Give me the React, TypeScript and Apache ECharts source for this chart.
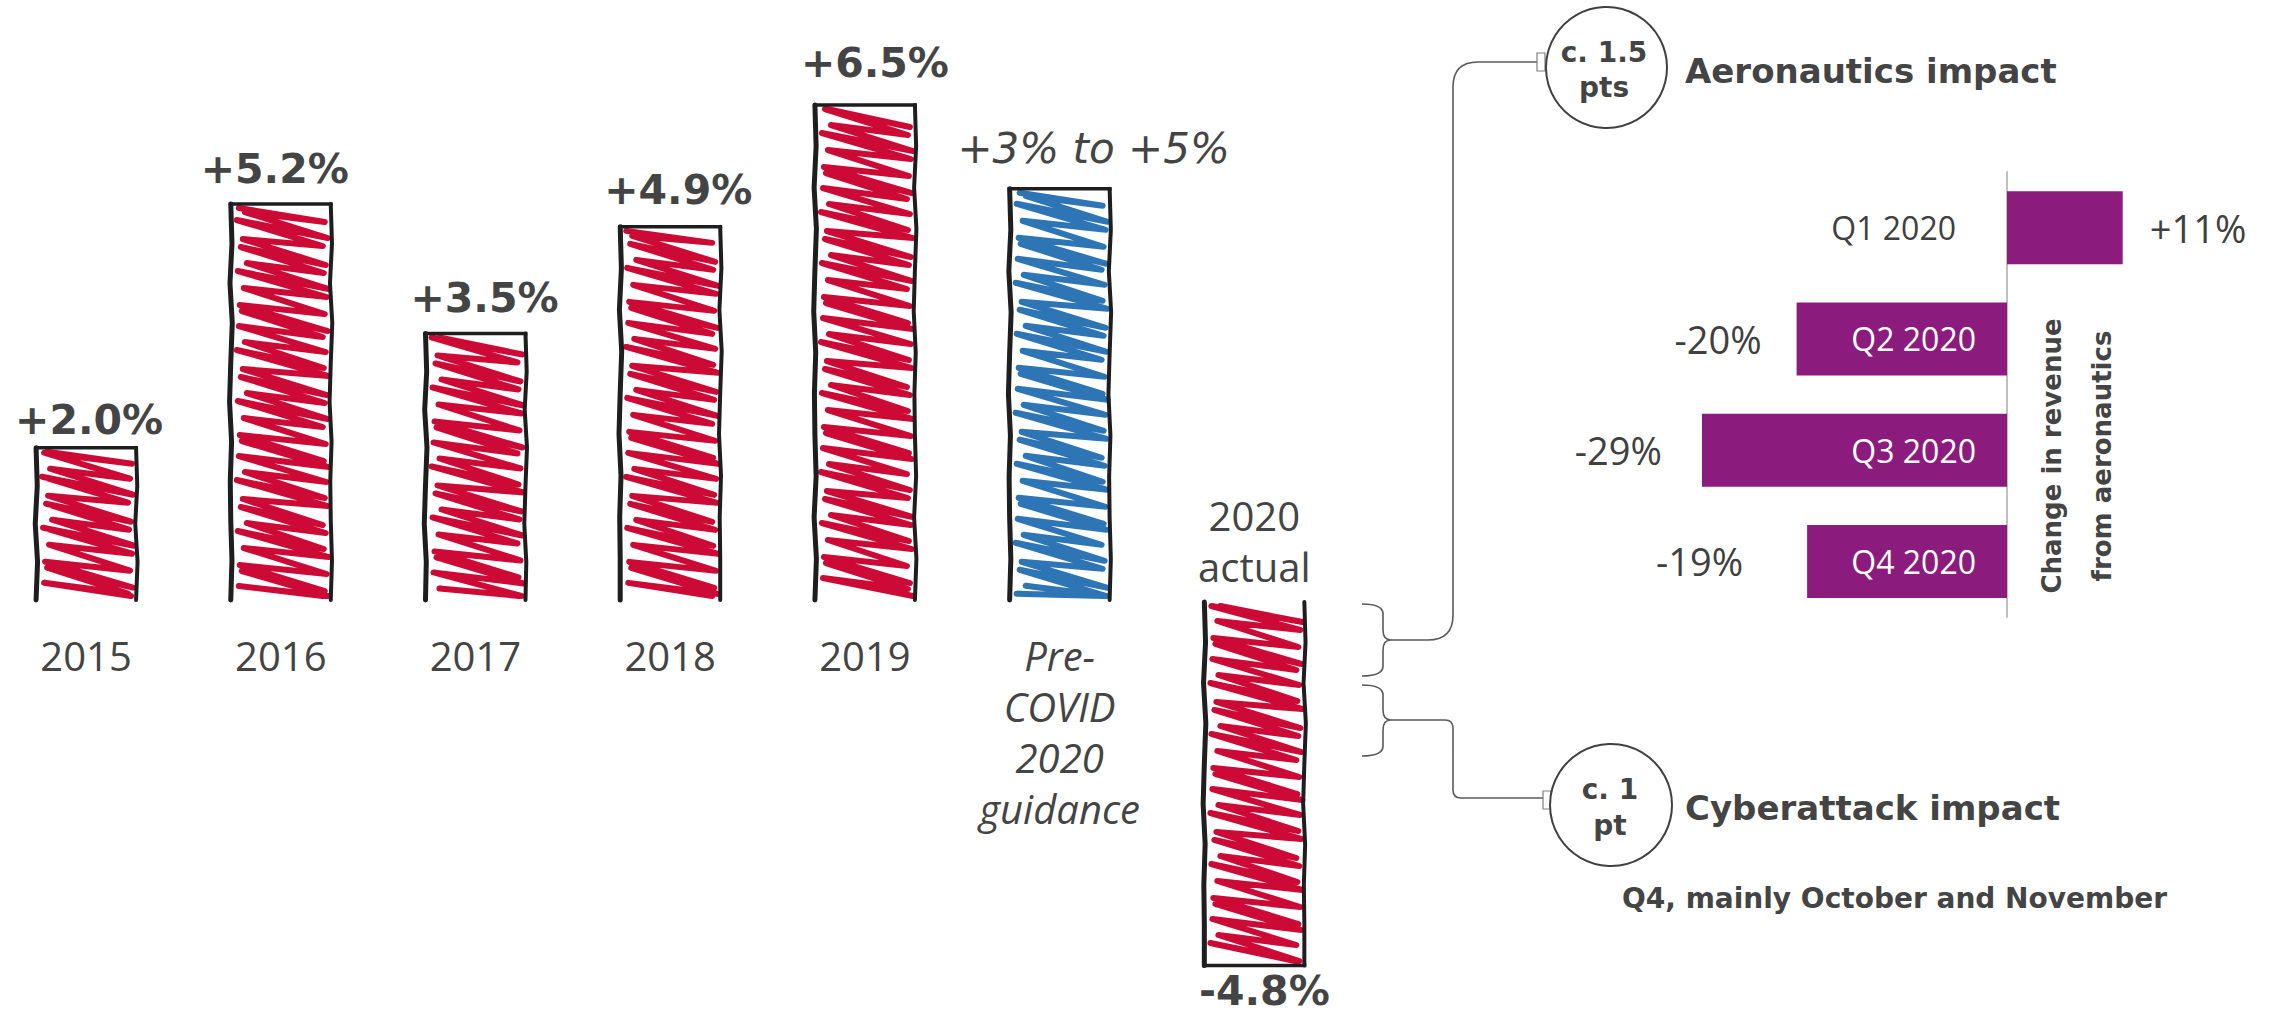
import React, { useEffect, useRef } from 'react';
import * as echarts from 'echarts';

// ---------------- data ----------------
const categories = ['2015', '2016', '2017', '2018', '2019', 'Pre-COVID 2020 guidance', '2020 actual'];
const categoryLabels = ['2015', '2016', '2017', '2018', '2019', 'Pre-\nCOVID\n2020\nguidance', ''];
const growth = [2.0, 5.2, 3.5, 4.9, 6.5, 5.4, -4.8];
const growthLabels = ['+2.0%', '+5.2%', '+3.5%', '+4.9%', '+6.5%', '+3% to +5%', '-4.8%'];
const actualTitle = '2020\nactual';
const guidanceIndex = 5;
const actualIndex = 6;

const quarters = ['Q1 2020', 'Q2 2020', 'Q3 2020', 'Q4 2020'];
const aeroChange = [11, -20, -29, -19];
const aeroLabels = ['+11%', '-20%', '-29%', '-19%'];

const impactAero = 'c. 1.5\npts';
const impactAeroTitle = 'Aeronautics impact';
const impactCyber = 'c. 1\npt';
const impactCyberTitle = 'Cyberattack impact';
const impactCyberNote = 'Q4, mainly October and November';
const aeroAxisTitle = 'Change in revenue\nfrom aeronautics';

// ---------------- styles / layout ----------------
const RED = '#CC0A35';
const BLUE = '#2E75B6';
const PURPLE = '#8B1C7E';
const TEXT = '#444444';
const BORDER = '#1e1e1e';
const BOLD = '"DejaVu Sans", Verdana, sans-serif';
const REG = '"Open Sans", "Noto Sans", sans-serif';

const Y_MIN = -5;
const Y_MAX = 7;
const GRID_TOP = 66.95;
const GRID_HEIGHT = 913.8;
// distance from grid bottom up to the zero line
const ZERO_OFFSET = (GRID_HEIGHT * -Y_MIN) / (Y_MAX - Y_MIN);

const labelDistance = [7.5, 14.5, 14.5, 16.5, 21.5, 19.5, 5];
const labelOffsetX = [3, -6, 9, 8, 10, 34, 10];
const aeroValueDistance = [27, 35, 40, 64];
const LEFT_INSET = [10, 16, 8, 14, 12, 18, 9, 15, 11, 13];
const RIGHT_INSET = [8, 5, 10, 7, 9, 4, 6];
const STEP_VAR = [0, 3, -2, 4, -1, 2, -3, 1, 5, -2];
const WOBBLE = [0, 1.2, -0.8, 1.5, 0, -1.2, 0.8, -0.5];

const connectorPath =
  'M1362,604 Q1383,604 1383,614 L1383,630 Q1383,640 1391,640 Q1383,640 1383,650 L1383,666 Q1383,676 1362,676 ' +
  'M1391,640 L1428,640 Q1453,640 1453,615 L1453,87 Q1453,62 1478,62 L1537,62 ' +
  'M1362,685 Q1383,685 1383,695 L1383,710 Q1383,720 1391,720 Q1383,720 1383,730 L1383,746 Q1383,756 1362,756 ' +
  'M1391,720 L1445,720 Q1453,720 1453,728 L1453,790 Q1453,798 1461,798 L1543,798';

let shapeRegistered = false;
function registerShapes() {
  if (shapeRegistered) return;
  echarts.graphic.registerShape('connectors', echarts.graphic.extendPath(connectorPath, {}) as any);
  shapeRegistered = true;
}

function borderLine(x: number, y1: number, y2: number, width: number) {
  const pts: number[][] = [];
  const n = Math.max(2, Math.round((y2 - y1) / 40));
  for (let k = 0; k <= n; k++) {
    pts.push([x + (k === 0 || k === n ? 0 : WOBBLE[k % WOBBLE.length]), y1 + ((y2 - y1) * k) / n]);
  }
  return {
    type: 'polyline',
    shape: { points: pts },
    style: { stroke: BORDER, lineWidth: width, fill: null, lineJoin: 'round', lineCap: 'round' },
  };
}

function renderScribble(params: any, api: any) {
  const i = api.value(0);
  const v = api.value(1);
  const base = api.coord([i, 0]);
  const end = api.coord([i, v]);
  const bw = 104;
  const cx = base[0];
  const x0 = cx - bw / 2;
  const x1 = cx + bw / 2;
  const yTop = Math.min(base[1], end[1]) + (v < 0 ? 2 : 0);
  const yBot = Math.max(base[1], end[1]);
  const color = i === guidanceIndex ? BLUE : RED;
  const step = 13;
  const drop = 26;
  const pts: number[][] = [];
  for (let k = -1; ; k++) {
    const yl = yTop + 5 + k * step + STEP_VAR[(k + 10 + i) % STEP_VAR.length];
    if (yl > yBot - 6) break;
    const yr = yl + drop;
    pts.push([x0 + LEFT_INSET[(k + 10 + i) % LEFT_INSET.length], Math.max(yl, yTop + 4)]);
    pts.push([x1 - RIGHT_INSET[(k + 7 + i) % RIGHT_INSET.length], Math.min(yr, yBot - 4)]);
  }
  const children: any[] = [
    {
      type: 'polyline',
      shape: { points: pts },
      style: { stroke: color, lineWidth: 6, fill: null, lineJoin: 'round', lineCap: 'round' },
    },
    borderLine(x0 + 2, yTop, yBot, 5),
    borderLine(x1 - 2, yTop, yBot, 4),
  ];
  const capY = v >= 0 ? yTop : yBot;
  children.push({
    type: 'line',
    shape: { x1: x0, y1: capY, x2: x1, y2: capY },
    style: { stroke: BORDER, lineWidth: 3.5 },
  });
  return { type: 'group', children };
}

export default function App() {
  const ref = useRef<HTMLDivElement>(null);

  useEffect(() => {
    document.body.style.margin = '0';
    registerShapes();
    const chart = echarts.init(ref.current as HTMLDivElement, undefined, { renderer: 'svg' });

    const option: any = {
      animation: false,
      backgroundColor: '#ffffff',
      grid: [
        { left: -11.3, width: 1363, top: GRID_TOP, height: GRID_HEIGHT, outerBoundsMode: 'none', containLabel: false },
        { left: 1691.4, width: 526, top: 172, height: 445, outerBoundsMode: 'none', containLabel: false },
      ],
      xAxis: [
        {
          gridIndex: 0,
          type: 'category',
          data: categories,
          position: 'bottom',
          offset: -ZERO_OFFSET,
          axisLine: { show: false, onZero: false },
          axisTick: { show: false },
          splitLine: { show: false },
          axisLabel: {
            interval: 0,
            margin: 30,
            formatter: (_v: string, idx: number) => {
              const txt = categoryLabels[idx];
              if (!txt) return '';
              const style = idx === guidanceIndex ? 'it' : 'n';
              return txt.split('\n').map((l) => `{${style}|${l}}`).join('\n');
            },
            rich: {
              n: { fontFamily: REG, fontSize: 40, lineHeight: 51, color: TEXT },
              it: { fontFamily: REG, fontSize: 40, lineHeight: 51, color: TEXT, fontStyle: 'italic' },
            },
          },
        },
        { gridIndex: 1, type: 'value', min: -30, max: 20, show: false, splitLine: { show: false } },
      ],
      yAxis: [
        { gridIndex: 0, type: 'value', min: Y_MIN, max: Y_MAX, show: false, splitLine: { show: false } },
        {
          gridIndex: 1,
          type: 'category',
          data: quarters,
          inverse: true,
          axisLine: { show: true, onZero: true, lineStyle: { color: '#bfbfbf', width: 2 } },
          axisTick: { show: false },
          axisLabel: { show: false },
          splitLine: { show: false },
        },
      ],
      series: [
        {
          type: 'custom',
          xAxisIndex: 0,
          yAxisIndex: 0,
          z: 3,
          silent: true,
          data: growth.map((v, i) => [i, v]),
          encode: { x: 0, y: 1 },
          renderItem: renderScribble,
        },
        {
          type: 'bar',
          xAxisIndex: 0,
          yAxisIndex: 0,
          barWidth: 104,
          barGap: '-100%',
          silent: true,
          z: 4,
          itemStyle: { color: 'rgba(0,0,0,0)' },
          data: growth.map((v, i) => ({
            value: v,
            label: {
              show: true,
              position: v >= 0 ? 'top' : 'bottom',
              distance: labelDistance[i],
              offset: [labelOffsetX[i], 0],
              formatter: growthLabels[i],
              fontFamily: BOLD,
              fontWeight: i === guidanceIndex ? 'normal' : 'bold',
              fontStyle: i === guidanceIndex ? 'italic' : 'normal',
              fontSize: i === guidanceIndex ? 42 : 41,
              lineHeight: 41,
              color: TEXT,
            },
          })),
        },
        {
          type: 'bar',
          xAxisIndex: 0,
          yAxisIndex: 0,
          barWidth: 104,
          barGap: '-100%',
          silent: true,
          z: 4,
          itemStyle: { color: 'rgba(0,0,0,0)' },
          data: growth.map((v, i) =>
            i === actualIndex
              ? {
                  value: v,
                  label: {
                    show: true,
                    position: 'top',
                    distance: 8.5,
                    formatter: actualTitle,
                    fontFamily: REG,
                    fontSize: 40,
                    lineHeight: 51,
                    color: TEXT,
                  },
                }
              : { value: v, label: { show: false } }
          ),
        },
        {
          type: 'bar',
          xAxisIndex: 1,
          yAxisIndex: 1,
          barWidth: 73,
          silent: true,
          itemStyle: { color: PURPLE },
          data: aeroChange.map((v, i) => ({
            value: v,
            label:
              v >= 0
                ? { show: true, position: 'left', distance: 51, formatter: quarters[i], color: '#404040', fontFamily: REG, fontSize: 32 }
                : { show: true, position: 'insideRight', distance: 31, formatter: quarters[i], color: '#ffffff', fontFamily: REG, fontSize: 32 },
          })),
        },
        {
          type: 'bar',
          xAxisIndex: 1,
          yAxisIndex: 1,
          barWidth: 73,
          barGap: '-100%',
          silent: true,
          itemStyle: { color: 'rgba(0,0,0,0)' },
          data: aeroChange.map((v, i) => ({
            value: v,
            label: {
              show: true,
              position: v >= 0 ? 'right' : 'left',
              distance: aeroValueDistance[i],
              formatter: aeroLabels[i],
              color: '#404040',
              fontFamily: REG,
              fontSize: 38,
            },
          })),
        },
      ],
      graphic: [
        {
          type: 'connectors',
          x: 0,
          y: 0,
          silent: true,
          style: { stroke: '#595959', lineWidth: 1.6, fill: 'none' },
        },
        { type: 'rect', shape: { x: 1537, y: 53, width: 8, height: 18 }, style: { fill: '#fff', stroke: '#7f7f7f', lineWidth: 1.2 } },
        { type: 'rect', shape: { x: 1543, y: 791, width: 8, height: 18 }, style: { fill: '#fff', stroke: '#7f7f7f', lineWidth: 1.2 } },
        { type: 'circle', shape: { cx: 1606.5, cy: 67.5, r: 60.5 }, style: { fill: '#fff', stroke: '#404040', lineWidth: 2 } },
        { type: 'circle', shape: { cx: 1611, cy: 805, r: 61 }, style: { fill: '#fff', stroke: '#404040', lineWidth: 2 } },
        {
          type: 'text', x: 1604, y: 69.5,
          style: { text: impactAero, fontFamily: BOLD, fontWeight: 'bold', fontSize: 28, lineHeight: 35, fill: TEXT, align: 'center', verticalAlign: 'middle' },
        },
        {
          type: 'text', x: 1610, y: 807,
          style: { text: impactCyber, fontFamily: BOLD, fontWeight: 'bold', fontSize: 28, lineHeight: 36, fill: TEXT, align: 'center', verticalAlign: 'middle' },
        },
        {
          type: 'text', x: 1685, y: 71,
          style: { text: impactAeroTitle, fontFamily: BOLD, fontWeight: 'bold', fontSize: 34, fill: TEXT, align: 'left', verticalAlign: 'middle' },
        },
        {
          type: 'text', x: 1685, y: 808,
          style: { text: impactCyberTitle, fontFamily: BOLD, fontWeight: 'bold', fontSize: 34, fill: TEXT, align: 'left', verticalAlign: 'middle' },
        },
        {
          type: 'text', x: 1622, y: 898,
          style: { text: impactCyberNote, fontFamily: BOLD, fontWeight: 'bold', fontSize: 28, fill: TEXT, align: 'left', verticalAlign: 'middle' },
        },
        {
          type: 'text', x: 2077, y: 456, rotation: Math.PI / 2,
          style: { text: aeroAxisTitle, fontFamily: BOLD, fontWeight: 'bold', fontSize: 26, lineHeight: 50, fill: TEXT, align: 'center', verticalAlign: 'middle' },
        },
      ],
    };

    chart.setOption(option);
    return () => {
      chart.dispose();
    };
  }, []);

  return (
    <div
      ref={ref}
      style={{ position: 'absolute', left: 0, top: 0, width: 2277, height: 1015, background: '#fff' }}
    />
  );
}
